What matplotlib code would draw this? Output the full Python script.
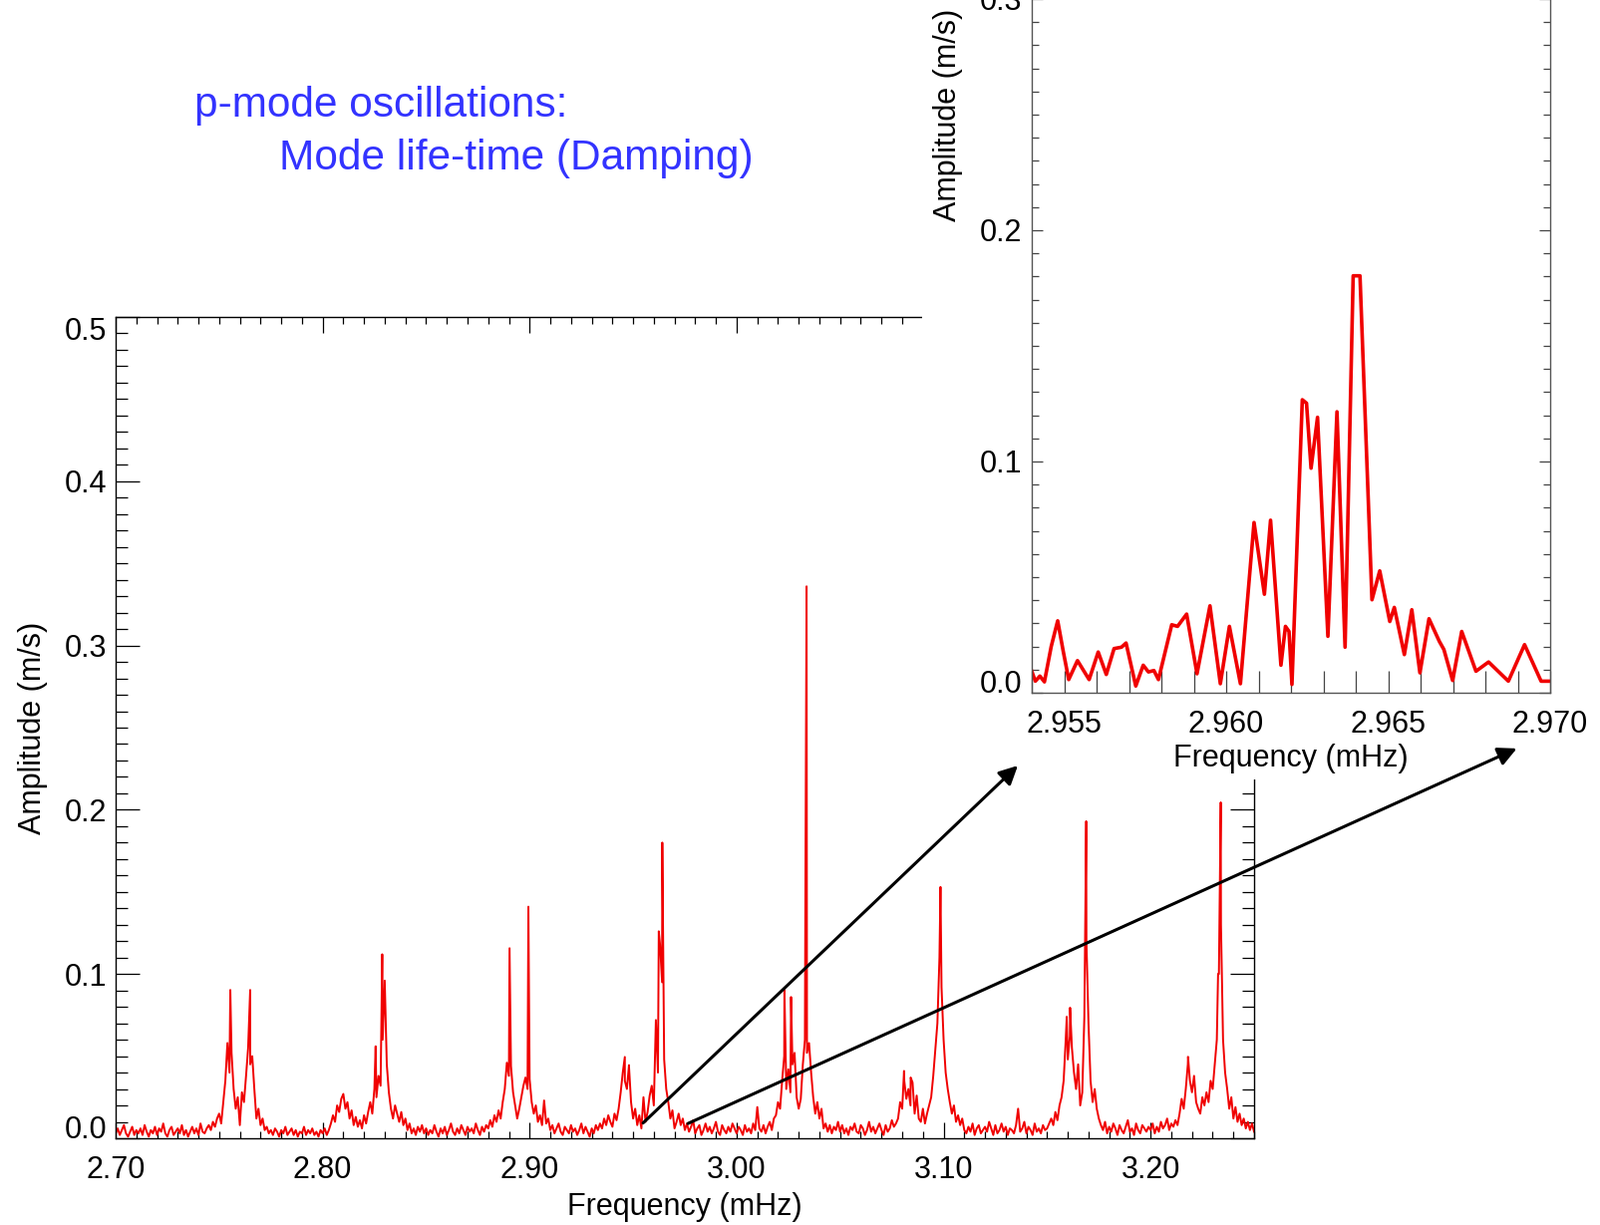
import numpy as np
import matplotlib.pyplot as plt
from matplotlib.patches import Rectangle, ConnectionPatch
from matplotlib.ticker import MultipleLocator, FormatStrFormatter

plt.rcParams['font.family'] = ['Liberation Sans', 'DejaVu Sans']

# full spectrum: amplitude in 0.001 m/s, one value every 0.001 mHz from 2.700 to 3.250 mHz
main_f0, main_f1 = 2.700, 3.250
main_amp_milli = """
3 6 2 5 8 3 1 4 7 2 5 3 6 2 8 4 1 5 3 7 2 6 4 9 3 1 5 7 2 4 6 3 8 2 5 1 4 7 3 6 2 9 4 3 6 8 5 10 7 12
15 9 22 35 58 40 52 30 18 25 8 28 22 38 55 45 50 30 12 18 8 12 5 7 3 5 2 6 4 1 5 3 7 2 4 6 2 5 1 4 3 7 2 5 3 6 2 4 1 5
3 6 2 5 9 14 10 20 16 24 27 18 22 12 17 8 13 7 11 6 14 9 16 22 15 30 25 38 32 60 96 45 28 18 12 20 15 10 16 8 12 5 9 3 6 2 7 4 8 3
6 2 5 3 8 4 1 6 3 7 2 5 9 4 2 6 3 8 5 2 7 4 6 3 9 5 2 7 4 8 6 11 7 14 10 17 12 22 30 46 38 44 28 20 12 18 25 32 37 30
36 22 15 20 10 14 8 23 9 12 5 8 3 6 9 4 2 7 5 3 8 4 6 2 5 9 3 7 4 1 6 3 8 5 9 6 12 8 14 10 7 15 11 18 28 40 35 30 44 22
12 18 8 14 6 25 10 16 26 32 20 72 40 118 95 48 30 22 12 17 6 10 15 8 12 5 9 4 7 11 3 6 8 2 5 9 4 7 3 6 10 4 2 8 5 3 7 4 9 6
3 7 5 2 8 4 6 3 9 5 19 6 4 8 3 7 10 5 12 14 22 18 35 50 30 42 28 45 52 25 18 24 45 60 52 58 40 25 15 22 12 18 6 9 4 8 3 7 5 10
4 8 3 6 2 7 5 9 4 3 8 6 2 5 10 4 7 3 6 9 5 2 8 4 6 11 7 9 12 22 18 35 24 30 20 34 15 26 12 10 18 9 15 20 25 38 54 70 110 92
60 40 30 22 15 20 10 14 8 12 5 3 7 4 9 2 6 8 3 5 7 4 10 6 2 8 3 5 9 4 7 2 6 5 3 8 18 4 6 10 3 7 5 2 9 4 6 3 8 5
6 9 12 8 16 11 20 25 35 60 48 62 55 40 30 45 20 28 74 120 70 35 22 30 18 12 8 5 10 3 7 4 9 6 2 8 5 3 7 11 4 6 2 9 5 3 8 6 4 7
5 9 3 7 4 10 6 8 12 5 9 7 11 8 15 24 18 30 45 35 28 38 22 18 15 25 20 28 22 35 30 45 60 100 130 60 40 30 18 25 12 19 10 15 8 12 6 10 5 9 4
"""

# narrow mode peaks (mHz, m/s)
peak_freq = [2.7554, 2.7650, 2.8256, 2.8288, 2.8903, 2.8994, 2.9460, 2.9480,
             2.9624, 2.9641, 3.0231, 3.0263, 3.0332, 3.0338, 3.0809, 3.0841,
             3.0985, 3.1595, 3.1611, 3.1689, 3.2181, 3.2326, 3.2339]
peak_amp = [0.0903, 0.0903, 0.056, 0.112, 0.1157, 0.141, 0.0495, 0.0445,
            0.126, 0.180, 0.0904, 0.086, 0.135, 0.336, 0.041, 0.037,
            0.153, 0.074, 0.0795, 0.193, 0.0496, 0.100, 0.2045]

# zoomed spectrum around the 2.964 mHz mode
zoom_freq = [2.95400, 2.95411, 2.95425, 2.95439, 2.95460, 2.95480, 2.95497, 2.95514,
             2.95541, 2.95577, 2.95605, 2.95630, 2.95654, 2.95677, 2.95691, 2.95721,
             2.95744, 2.95760, 2.95777, 2.95791, 2.95832, 2.95850, 2.95878, 2.95910,
             2.95950, 2.95982, 2.96010, 2.96044, 2.96086, 2.96118, 2.96137, 2.96169,
             2.96183, 2.96194, 2.96203, 2.96235, 2.96248, 2.96262, 2.96282, 2.96314,
             2.96342, 2.96367, 2.96392, 2.96413, 2.96450, 2.96474, 2.96505, 2.96519,
             2.96550, 2.96573, 2.96598, 2.96626, 2.96658, 2.96672, 2.96699, 2.96727,
             2.96771, 2.96810, 2.96871, 2.96921, 2.96972, 2.97000]
zoom_amp = [0.0093, 0.0050, 0.0072, 0.0047, 0.0200, 0.0311, 0.0180, 0.0057,
            0.0139, 0.0057, 0.0176, 0.0079, 0.0191, 0.0197, 0.0215, 0.0029,
            0.0119, 0.0090, 0.0096, 0.0057, 0.0294, 0.0287, 0.0340, 0.0082,
            0.0376, 0.0039, 0.0287, 0.0039, 0.0736, 0.0426, 0.0746, 0.0119,
            0.0287, 0.0265, 0.0036, 0.1267, 0.1252, 0.0971, 0.1191, 0.0244,
            0.1215, 0.0197, 0.1803, 0.1803, 0.0402, 0.0527, 0.0308, 0.0369,
            0.0165, 0.0359, 0.0086, 0.0320, 0.0222, 0.0187, 0.0053, 0.0265,
            0.0093, 0.0133, 0.0050, 0.0208, 0.0050, 0.0050]

amp_ticks = [0.0, 0.1, 0.2, 0.3, 0.4, 0.5]

# arrows: from the main spectrum (mHz, m/s) to below the inset axis (inset data coords)
arrow_from = [(2.9548, 0.0093), (2.9765, 0.0090)]
arrow_to = [(2.95357, -0.0315), (2.96897, -0.0241)]

base = np.array(main_amp_milli.split(), float) / 1000.0
base_f = np.linspace(main_f0, main_f1, len(base))
freq = np.concatenate([base_f, peak_freq])
amp = np.concatenate([base, peak_amp])
order = np.argsort(freq)
freq, amp = freq[order], amp[order]

red = '#f00000'
W, H = 1606, 1229
fig = plt.figure(figsize=(W / 100, H / 100), dpi=100)

# main panel
ax = fig.add_axes([116 / W, 87 / H, 1142 / W, 824 / H])
ax.set_zorder(1)
ax.plot(freq, amp, color=red, lw=1.4)
ax.set_xlim(2.70, 3.25)
ax.set_ylim(0, 0.5)
ax.xaxis.set_major_locator(MultipleLocator(0.1))
ax.xaxis.set_minor_locator(MultipleLocator(0.01))
ax.set_yticks(amp_ticks)
ax.yaxis.set_minor_locator(MultipleLocator(0.01))
ax.xaxis.set_major_formatter(FormatStrFormatter('%.2f'))
ax.yaxis.set_major_formatter(FormatStrFormatter('%.1f'))
ax.tick_params(axis='both', which='both', direction='in', top=True, right=True,
               labelsize=22, width=0.9)
ax.tick_params(axis='x', which='major', length=11.5, pad=12)
ax.tick_params(axis='x', which='minor', length=5)
ax.tick_params(axis='y', which='major', length=17, pad=6.5)
ax.tick_params(axis='y', which='minor', length=8.6)
ax.set_xlabel('Frequency (mHz)', fontsize=22, labelpad=5)
ax.set_ylabel('Amplitude (m/s)', fontsize=22, labelpad=12)
for sp in ax.spines.values():
    sp.set_linewidth(1.0)

# white backdrop behind the inset
fig.add_artist(Rectangle((925 / W, 447 / H), 1 - 925 / W, 1 - 447 / H,
                         transform=fig.transFigure, facecolor='white',
                         edgecolor='none', zorder=2))

# inset panel
axin = fig.add_axes([1035 / W, 534 / H, 520 / W, 1160 / H])
axin.set_zorder(3)
axin.plot(zoom_freq, zoom_amp, color=red, lw=2.6)
axin.set_xlim(2.954, 2.970)
axin.set_ylim(0, 0.5)
axin.xaxis.set_major_locator(MultipleLocator(0.005))
axin.xaxis.set_minor_locator(MultipleLocator(0.001))
axin.set_yticks(amp_ticks)
axin.yaxis.set_minor_locator(MultipleLocator(0.01))
axin.xaxis.set_major_formatter(FormatStrFormatter('%.3f'))
axin.yaxis.set_major_formatter(FormatStrFormatter('%.1f'))
axin.tick_params(axis='both', which='both', direction='in', top=True, right=True,
                 labelsize=22, width=0.9, color='#444444')
axin.tick_params(axis='x', which='both', length=16, pad=12)
axin.tick_params(axis='y', which='major', length=8, pad=7)
axin.tick_params(axis='y', which='minor', length=5)
axin.set_xlabel('Frequency (mHz)', fontsize=22, labelpad=3)
axin.set_ylabel('Amplitude (m/s)', fontsize=22, labelpad=12)
for sp in axin.spines.values():
    sp.set_color('#555555')
    sp.set_linewidth(1.0)

# keep the 0.0 and 0.5 labels inside the frame, like the original
for a in (ax, axin):
    ticks = a.yaxis.get_major_ticks()
    ticks[0].label1.set_verticalalignment('baseline')
    ticks[-1].label1.set_verticalalignment('top')

for p0, p1 in zip(arrow_from, arrow_to):
    con = ConnectionPatch(xyA=p0, coordsA=ax.transData, xyB=p1, coordsB=axin.transData,
                          arrowstyle='-|>', mutation_scale=28, lw=2.2, color='black',
                          zorder=4)
    fig.add_artist(con)

fig.text(195 / W, 1 - 106 / H, 'p-mode oscillations:', color='#3333ff',
         fontsize=30.5, va='center', ha='left')
fig.text(280 / W, 1 - 159 / H, 'Mode life-time (Damping)', color='#3333ff',
         fontsize=30.5, va='center', ha='left')

fig.savefig('out.png', dpi=100)
